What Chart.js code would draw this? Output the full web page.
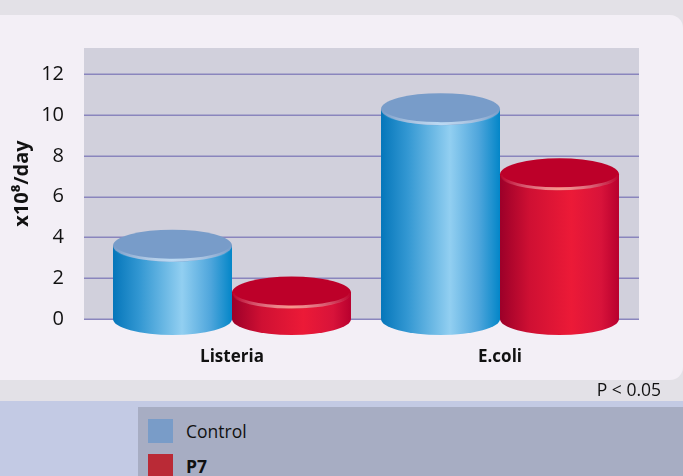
<!DOCTYPE html>
<html>
<head>
<meta charset="utf-8">
<script src="https://cdn.jsdelivr.net/npm/chart.js@4.4.1/dist/chart.umd.min.js"></script>
<style>
  html, body { margin: 0; padding: 0; }
  body { width: 683px; height: 476px; background: #e3e1e7; position: relative; overflow: hidden;
         font-family: "Open Sans", "Noto Sans", sans-serif; }
  #panel { position: absolute; left: -14px; top: 15px; width: 697px; height: 365px;
           background: #f3eff6; border-radius: 13px; }
  #wrap { position: absolute; left: 0; top: 0; width: 683px; height: 400px; }
  #pnote { position: absolute; right: 22px; top: 377px; font-size: 17.5px; color: #111; }
  #band { position: absolute; left: 0; top: 401px; width: 683px; height: 75px; background: #c3cae4; }
  #legend { position: absolute; left: 138px; top: 407px; width: 545px; height: 69px; background: #a7adc3; }
  .item { position: absolute; left: 10px; height: 24px; display: flex; align-items: center; }
  .sw { width: 25px; height: 24px; margin-right: 13px; }
  .lbl { font-size: 17.5px; color: #111; }
</style>
</head>
<body>
<div id="panel"></div>
<div id="wrap"><canvas id="chart" width="683" height="400"></canvas></div>
<div id="pnote">P &lt; 0.05</div>
<div id="band"></div>
<div id="legend"></div>
<script>
// Bacterial counts per day (x10^8) for each group
const categories = ["Listeria", "E.coli"];
const controlValues = [3.6, 10.3];
const p7Values = [1.3, 7.1];
const seriesNames = ["Control", "P7"];
const yTicks = [0, 2, 4, 6, 8, 10, 12];

// Cylinder colour schemes: side gradient stops, top face, rim highlight
const looks = [
  { stops: [[0, "#0576ba"], [0.22, "#3297d2"], [0.58, "#92cff1"], [0.82, "#4fa6dc"], [1, "#0386c8"]],
    top: "#789cc9", rim: "rgba(190,220,245,0.95)", swatch: "#799cc8" },
  { stops: [[0, "#9c0029"], [0.25, "#cf1033"], [0.6, "#ec1a37"], [0.85, "#d8133a"], [1, "#b8002e"]],
    top: "#bd0029", rim: "rgba(248,150,140,1)", swatch: "#ba2a36" }
];

// Legend
const legendEl = document.getElementById("legend");
seriesNames.forEach((name, i) => {
  const it = document.createElement("div");
  it.className = "item";
  it.style.top = (12 + i * 35) + "px";
  it.innerHTML = '<div class="sw" style="background:' + looks[i].swatch + '"></div>' +
    '<span class="lbl" style="font-weight:' + (i === 1 ? 700 : 400) + '">' + name + '</span>';
  legendEl.appendChild(it);
});

const RY = 16;
const PLOT_LEFT = 84, PLOT_RIGHT = 639;

// Gray plot background and horizontal grid lines at the y ticks
const plotBg = {
  id: "plotBg",
  beforeDatasetsDraw(chart) {
    const { ctx, chartArea: a } = chart;
    const ys = chart.scales.y;
    ctx.save();
    ctx.fillStyle = "#d1d0dc";
    ctx.fillRect(PLOT_LEFT, a.top, PLOT_RIGHT - PLOT_LEFT, a.bottom - a.top);
    ctx.strokeStyle = "#8a85bd";
    ctx.lineWidth = 1.5;
    yTicks.forEach(v => {
      const py = Math.round(ys.getPixelForValue(v)) + 0.25;
      ctx.beginPath();
      ctx.moveTo(PLOT_LEFT, py);
      ctx.lineTo(PLOT_RIGHT, py);
      ctx.stroke();
    });
    ctx.restore();
  }
};

// Draws each bar as a shaded cylinder using the bar element geometry
const cylinders = {
  id: "cylinders",
  afterDatasetsDraw(chart) {
    const ctx = chart.ctx;
    chart.data.datasets.forEach((ds, di) => {
      const look = looks[di];
      chart.getDatasetMeta(di).data.forEach(bar => {
        const { x, y, base, width } = bar.getProps(["x", "y", "base", "width"], true);
        const rx = width / 2, l = x - rx;
        const g = ctx.createLinearGradient(l, 0, l + width, 0);
        look.stops.forEach(s => g.addColorStop(s[0], s[1]));
        ctx.save();
        // body: bottom half-ellipse + side
        ctx.beginPath();
        ctx.moveTo(l, y);
        ctx.lineTo(l, base);
        ctx.ellipse(x, base, rx, RY, 0, Math.PI, 0, true);
        ctx.lineTo(l + width, y);
        ctx.closePath();
        ctx.fillStyle = g;
        ctx.fill();
        // top face
        ctx.beginPath();
        ctx.ellipse(x, y, rx, RY, 0, 0, Math.PI * 2);
        ctx.fillStyle = look.top;
        ctx.fill();
        // rim highlight along the front edge of the top face
        const rg = ctx.createLinearGradient(l, 0, l + width, 0);
        rg.addColorStop(0, "rgba(255,255,255,0)");
        rg.addColorStop(0.5, look.rim);
        rg.addColorStop(1, "rgba(255,255,255,0)");
        ctx.beginPath();
        ctx.ellipse(x, y, rx - 0.5, RY - 1.5, 0, 0.05, Math.PI - 0.05, false);
        ctx.strokeStyle = rg;
        ctx.lineWidth = 3;
        ctx.stroke();
        ctx.restore();
      });
    });
  }
};

new Chart(document.getElementById("chart"), {
  type: "bar",
  data: {
    labels: categories,
    datasets: [
      { label: seriesNames[0], data: controlValues, backgroundColor: "rgba(0,0,0,0)", borderWidth: 0 },
      { label: seriesNames[1], data: p7Values, backgroundColor: "rgba(0,0,0,0)", borderWidth: 0 }
    ]
  },
  options: {
    responsive: false,
    animation: false,
    events: [],
    layout: { padding: { top: 48, right: 49, left: 0, bottom: 0 } },
    datasets: { bar: { categoryPercentage: 0.888, barPercentage: 1 } },
    plugins: { legend: { display: false }, tooltip: { enabled: false } },
    scales: {
      x: {
        grid: { display: false },
        border: { display: false },
        ticks: { color: "#111", padding: 20, font: { family: "'Open Sans', 'Noto Sans', sans-serif", size: 17, weight: "bold" } },
        afterFit(s) { s.height = 81; }
      },
      y: {
        min: 0,
        max: 13.3,
        border: { display: false },
        grid: { display: false },
        ticks: { stepSize: 2, padding: 26, color: "#111", font: { family: "'Open Sans', 'Noto Sans', sans-serif", size: 20 } },
        afterBuildTicks(s) { s.ticks = yTicks.map(v => ({ value: v })); },
        title: { display: true, text: "x10\u2078/day", color: "#111", padding: { top: 10, bottom: 0 },
                 font: { family: "'Open Sans', 'Noto Sans', sans-serif", size: 20, weight: "bold" } },
        afterFit(s) { s.width = 98; }
      }
    }
  },
  plugins: [plotBg, cylinders]
});
</script>
</body>
</html>
